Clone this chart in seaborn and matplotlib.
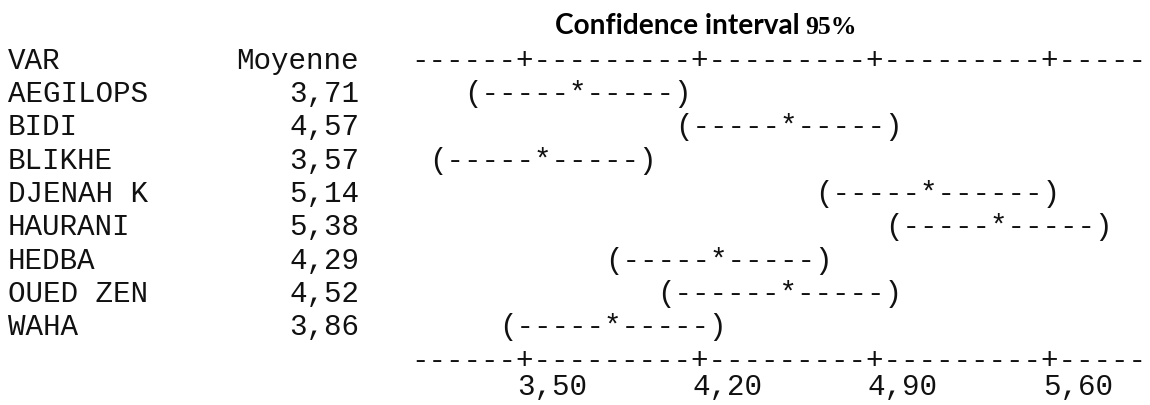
import matplotlib
matplotlib.use("Agg")
import matplotlib.pyplot as plt
import seaborn as sns

# ---- data -------------------------------------------------------------
categories = ["AEGILOPS", "BIDI", "BLIKHE", "DJENAH K",
              "HAURANI", "HEDBA", "OUED ZEN", "WAHA"]
means = [3.71, 4.57, 3.57, 5.14, 5.38, 4.29, 4.52, 3.86]
lower = [3.29, 4.14, 3.15, 4.70, 4.96, 3.87, 4.09, 3.44]
upper = [4.13, 4.99, 3.99, 5.59, 5.80, 4.71, 4.95, 4.28]
ticks = [3.50, 4.20, 4.90, 5.60]
header = ["VAR", "Moyenne"]
title_text = "Confidence interval"
title_level = "95%"

# ---- style ------------------------------------------------------------
sns.set_theme(style="white")
MONO = ["Liberation Mono", "DejaVu Sans Mono"]
plt.rcParams["font.family"] = MONO

W, H, DPI = 1150, 405, 100
PITCH = 17.55          # character cell width in pixels
ROW = 33.35            # line height in pixels
X0 = 8.0               # left edge of the first text column
Y0 = 59.0              # centre of the header line
CHARS_PER_TICK = 10
STEP = (ticks[1] - ticks[0]) / CHARS_PER_TICK   # value covered by one cell
TICK_COL = 29          # text column of the first tick mark
AXIS_FIRST, AXIS_LEN = 23, 42
FS = PITCH / 0.6 * 72 / DPI                     # mono advance = 0.6 em
INK = "#111111"

fig = plt.figure(figsize=(W / DPI, H / DPI), dpi=DPI)
ax = fig.add_axes([0, 0, 1, 1])


def col_left(c):
    """Value at the left edge of text column c."""
    return ticks[0] + (c - TICK_COL - 0.5) * STEP


def value_col(v):
    """Text column holding value v."""
    return TICK_COL + int(round((v - ticks[0]) / STEP))


ax.set_xlim(col_left(-X0 / PITCH), col_left((W - X0) / PITCH))
ax.set_ylim((H - Y0) / ROW, -Y0 / ROW)
ax.set_axis_off()
sns.despine(ax=ax, left=True, bottom=True)

CAP = 0.659 * PITCH / 0.6 / ROW / 2   # half cap height, in rows


def line(row, x, s, ha="left"):
    ax.text(x, row + CAP, s, ha=ha, va="baseline", fontsize=FS,
            color=INK, family=MONO)


def fmt(v):
    return f"{v:.2f}".replace(".", ",")


# ---- table ------------------------------------------------------------
line(0, col_left(0), header[0])
line(0, col_left(20), header[1], ha="right")
for i, (name, m) in enumerate(zip(categories, means), start=1):
    line(i, col_left(0), name)
    line(i, col_left(20), fmt(m), ha="right")

# ---- scale lines ------------------------------------------------------
tick_cols = {value_col(t) for t in ticks}
rule = "".join("+" if c in tick_cols else "-"
               for c in range(AXIS_FIRST, AXIS_FIRST + AXIS_LEN))
line(0, col_left(AXIS_FIRST), rule)
line(len(categories) + 1, col_left(AXIS_FIRST), rule)
for t in ticks:
    # scale labels sit a little higher so the commas stay on the canvas
    line(len(categories) + 2 - 0.2, col_left(value_col(t)), fmt(t))

# ---- intervals --------------------------------------------------------
for i, (lo, m, hi) in enumerate(zip(lower, means, upper), start=1):
    c_lo, c_m, c_hi = value_col(lo), value_col(m), value_col(hi)
    s = "(" + "-" * (c_m - c_lo - 1) + "*" + "-" * (c_hi - c_m - 1) + ")"
    line(i, col_left(c_lo), s)

# ---- title ------------------------------------------------------------
px_to_x = (ax.get_xlim()[1] - ax.get_xlim()[0]) / W
title_x = ax.get_xlim()[0] + 555 * px_to_x
title_y = -1 + 8.5 / ROW
t1 = ax.text(title_x, title_y, title_text, ha="left", va="baseline",
             fontsize=18, fontweight="bold", family=["Lato", "DejaVu Sans"],
             color="black")
fig.canvas.draw()
bb = t1.get_window_extent()
t1.set_fontsize(18 * 245.0 / bb.width)
fig.canvas.draw()
bb = t1.get_window_extent()
ax.text(ax.get_xlim()[0] + (bb.x1 + 6) * px_to_x, title_y, title_level,
        ha="left", va="baseline", fontsize=18.5, fontweight="bold",
        family=["Liberation Serif", "DejaVu Serif"], color="black")

fig.savefig("out.png", dpi=DPI, facecolor="white")
